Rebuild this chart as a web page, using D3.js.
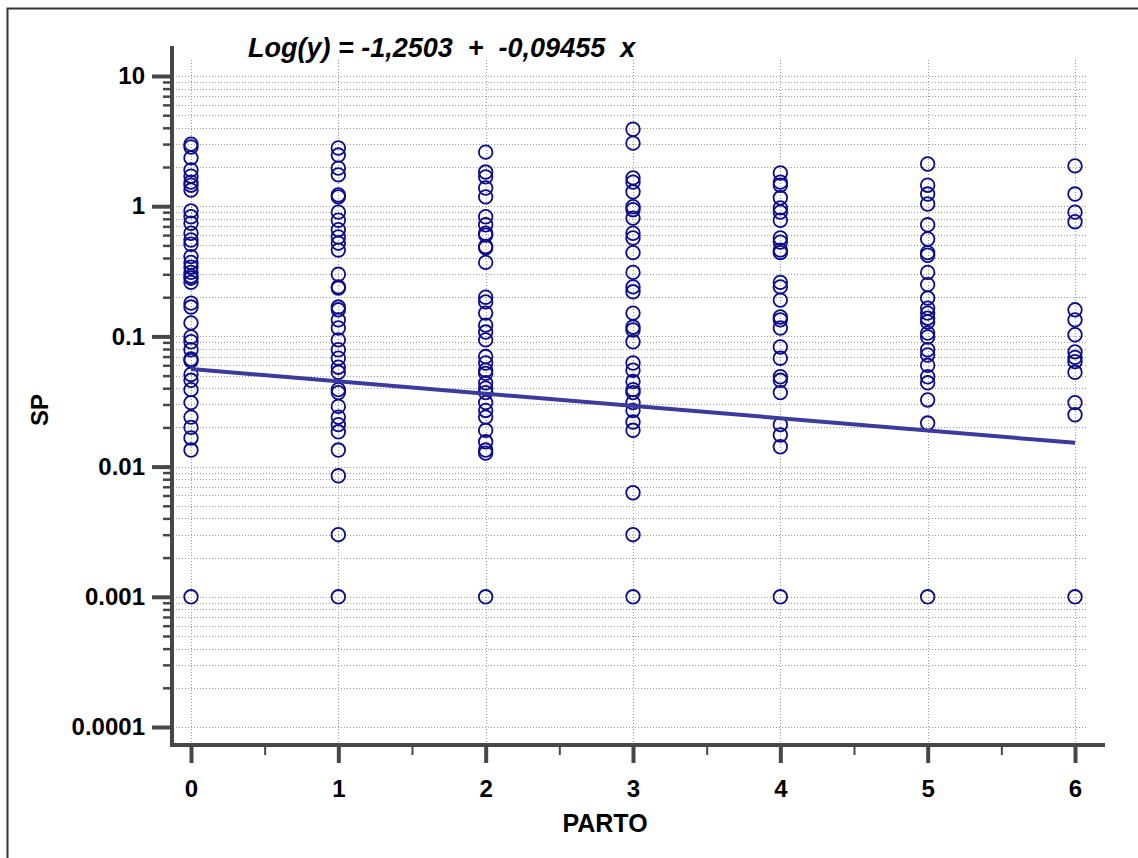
<!DOCTYPE html>
<html>
<head>
<meta charset="utf-8">
<script src="https://cdn.jsdelivr.net/npm/d3@7"></script>
<style>
  body { margin: 0; background: #fff; }
  text { font-family: "Liberation Sans", Arial, sans-serif; font-weight: bold; fill: #000; }
</style>
</head>
<body>
<div class="chart"></div>
<script>
// DATA ------------------------------------

const partoLevels = [0, 1, 2, 3, 4, 5, 6];

const sp0 = [3.0, 2.85, 2.35, 1.9, 1.7, 1.53, 1.45, 1.33, 0.92, 0.83, 0.74, 0.62, 0.55, 0.51, 0.41,
  0.37, 0.34, 0.31, 0.29, 0.28, 0.26, 0.18, 0.168, 0.127, 0.099, 0.091, 0.079, 0.067, 0.065, 0.051,
  0.046, 0.039, 0.031, 0.024, 0.02, 0.0166, 0.0134, 0.001];
const sp1 = [2.8, 2.47, 1.96, 1.74, 1.22, 1.18, 0.9, 0.78, 0.66, 0.58, 0.52, 0.46, 0.3, 0.24, 0.235,
  0.168, 0.16, 0.134, 0.116, 0.094, 0.079, 0.068, 0.058, 0.053, 0.039, 0.037, 0.029, 0.024, 0.021,
  0.0185, 0.0134, 0.0085, 0.003, 0.001];
const sp2 = [2.6, 1.83, 1.68, 1.38, 1.18, 0.83, 0.72, 0.62, 0.6, 0.49, 0.48, 0.37, 0.2, 0.184, 0.151,
  0.122, 0.108, 0.094, 0.07, 0.0625, 0.055, 0.052, 0.044, 0.04, 0.037, 0.031, 0.027, 0.024, 0.019,
  0.0155, 0.0134, 0.0127, 0.001];
const sp3 = [3.9, 3.05, 1.65, 1.53, 1.29, 0.99, 0.94, 0.81, 0.62, 0.57, 0.44, 0.31, 0.24, 0.22, 0.151,
  0.118, 0.112, 0.091, 0.0625, 0.055, 0.045, 0.039, 0.037, 0.031, 0.027, 0.022, 0.019, 0.0063, 0.003,
  0.001];
const sp4 = [1.8, 1.53, 1.45, 1.16, 0.97, 0.9, 0.78, 0.57, 0.53, 0.46, 0.44, 0.26, 0.24, 0.19, 0.141,
  0.134, 0.116, 0.083, 0.068, 0.049, 0.046, 0.037, 0.021, 0.0175, 0.0142, 0.001];
const sp5 = [2.11, 1.45, 1.24, 1.04, 0.72, 0.56, 0.44, 0.42, 0.31, 0.25, 0.197, 0.165, 0.151, 0.138,
  0.129, 0.106, 0.099, 0.079, 0.072, 0.06, 0.049, 0.044, 0.0325, 0.0216, 0.001];
const sp6 = [2.04, 1.24, 0.9, 0.76, 0.16, 0.134, 0.103, 0.076, 0.069, 0.064, 0.053, 0.031, 0.025, 0.001];

const spByParto = [sp0, sp1, sp2, sp3, sp4, sp5, sp6];

// fitted model: log10(y) = a + b x
const intercept = -1.2503;
const slope = -0.09455;
const titleText = "Log(y) = -1,2503  +  -0,09455  x";

const yTickValues = [10, 1, 0.1, 0.01, 0.001, 0.0001];
const yTickLabels = ["10", "1", "0.1", "0.01", "0.001", "0.0001"];

// CHART INIT ------------------------------

const totalWidth = 1138;
const totalHeight = 858;

const svg = d3
  .select(".chart")
  .append("svg")
  .attr("width", totalWidth)
  .attr("height", totalHeight);

// outer frame (only left and top edges fall inside the picture)
svg
  .append("rect")
  .attr("x", 7.5)
  .attr("y", 8.5)
  .attr("width", 1300)
  .attr("height", 1000)
  .attr("fill", "none")
  .attr("stroke", "#333")
  .attr("stroke-width", 2);

const xScale = d3.scaleLinear().domain([0, 6]).range([191, 1075]);
const yScale = d3.scaleLog().domain([0.0001, 10]).range([727, 76]);

const axisColor = "#474747";
const axisX = 172;
const axisY = 745;

// minor log values (2..9 per decade)
const minorVals = [];
d3.range(-4, 1).forEach((e) => {
  d3.range(1, 10).forEach((m) => minorVals.push(m * Math.pow(10, e)));
});
minorVals.push(10);

// GRID ------------------------------------

const grid = svg.append("g").attr("class", "grid");

grid
  .selectAll(".hgrid")
  .data(minorVals)
  .enter()
  .append("line")
  .attr("x1", 176)
  .attr("x2", 1088)
  .attr("y1", (d) => Math.round(yScale(d)) + 0.5)
  .attr("y2", (d) => Math.round(yScale(d)) + 0.5)
  .attr("stroke", "#9a9a9a")
  .attr("stroke-width", 1)
  .attr("stroke-dasharray", "1,2");

grid
  .selectAll(".vgrid")
  .data(partoLevels)
  .enter()
  .append("line")
  .attr("x1", (d) => Math.round(xScale(d)) + 0.5)
  .attr("x2", (d) => Math.round(xScale(d)) + 0.5)
  .attr("y1", 60)
  .attr("y2", axisY)
  .attr("stroke", "#9a9a9a")
  .attr("stroke-width", 1)
  .attr("stroke-dasharray", "1,2");

// AXES ------------------------------------

// y minor ticks
const yMinor = d3
  .axisLeft(yScale)
  .tickValues(minorVals.filter((d) => !yTickValues.includes(d)))
  .tickSize(9)
  .tickFormat("");

svg
  .append("g")
  .attr("class", "axis y-minor")
  .attr("transform", `translate(${axisX}, 0)`)
  .call(yMinor)
  .call((g) => g.select(".domain").remove())
  .call((g) => g.selectAll("line").attr("stroke", axisColor).attr("stroke-width", 2.5));

const yAxis = d3
  .axisLeft(yScale)
  .tickValues(yTickValues)
  .tickSize(20)
  .tickPadding(7)
  .tickFormat((d, i) => yTickLabels[i]);

svg
  .append("g")
  .attr("class", "axis y-axis")
  .attr("transform", `translate(${axisX}, 0)`)
  .call(yAxis)
  .call((g) => g.select(".domain").remove())
  .call((g) => g.selectAll("line").attr("stroke", axisColor).attr("stroke-width", 4))
  .call((g) => g.selectAll("text").attr("font-size", 24).attr("font-family", "Liberation Sans, Arial, sans-serif"));

// x minor ticks at half steps
const xMinor = d3
  .axisBottom(xScale)
  .tickValues([0.5, 1.5, 2.5, 3.5, 4.5, 5.5])
  .tickSize(10)
  .tickFormat("");

svg
  .append("g")
  .attr("class", "axis x-minor")
  .attr("transform", `translate(0, ${axisY})`)
  .call(xMinor)
  .call((g) => g.select(".domain").remove())
  .call((g) => g.selectAll("line").attr("stroke", axisColor).attr("stroke-width", 2));

const xAxis = d3
  .axisBottom(xScale)
  .tickValues(partoLevels)
  .tickSize(18)
  .tickPadding(17)
  .tickFormat(d3.format("d"));

svg
  .append("g")
  .attr("class", "axis x-axis")
  .attr("transform", `translate(0, ${axisY})`)
  .call(xAxis)
  .call((g) => g.select(".domain").remove())
  .call((g) => g.selectAll("line").attr("stroke", axisColor).attr("stroke-width", 4))
  .call((g) => g.selectAll("text").attr("font-size", 24).attr("font-family", "Liberation Sans, Arial, sans-serif"));

// axis lines
svg
  .append("line")
  .attr("x1", axisX)
  .attr("x2", axisX)
  .attr("y1", 46)
  .attr("y2", axisY + 2)
  .attr("stroke", axisColor)
  .attr("stroke-width", 4);

svg
  .append("line")
  .attr("x1", axisX - 2)
  .attr("x2", 1105)
  .attr("y1", axisY)
  .attr("y2", axisY)
  .attr("stroke", axisColor)
  .attr("stroke-width", 4);

// axis titles
svg
  .append("text")
  .attr("x", 605)
  .attr("y", 832)
  .attr("text-anchor", "middle")
  .attr("font-size", 25)
  .text("PARTO");

svg
  .append("text")
  .attr("transform", "translate(48, 410) rotate(-90)")
  .attr("text-anchor", "middle")
  .attr("font-size", 24)
  .text("SP");

// title
svg
  .append("text")
  .attr("x", 248)
  .attr("y", 57)
  .attr("font-size", 27)
  .attr("font-style", "italic")
  .style("white-space", "pre")
  .attr("xml:space", "preserve")
  .text(titleText);

// POINTS ----------------------------------

const points = [];
spByParto.forEach((vals, i) => {
  vals.forEach((v) => points.push({ parto: partoLevels[i], sp: v }));
});

svg
  .append("g")
  .attr("class", "points")
  .selectAll("circle")
  .data(points)
  .enter()
  .append("circle")
  .attr("cx", (d) => xScale(d.parto))
  .attr("cy", (d) => yScale(d.sp))
  .attr("r", 6.8)
  .attr("fill", "none")
  .attr("stroke", "#0c0c8c")
  .attr("stroke-width", 1.8);

// REGRESSION LINE -------------------------

const fitX = [0, 6];
const fitLine = d3
  .line()
  .x((d) => xScale(d))
  .y((d) => yScale(Math.pow(10, intercept + slope * d)));

svg
  .append("path")
  .datum(fitX)
  .attr("d", fitLine)
  .attr("fill", "none")
  .attr("stroke", "#3b3b9e")
  .attr("stroke-width", 4);
</script>
</body>
</html>
